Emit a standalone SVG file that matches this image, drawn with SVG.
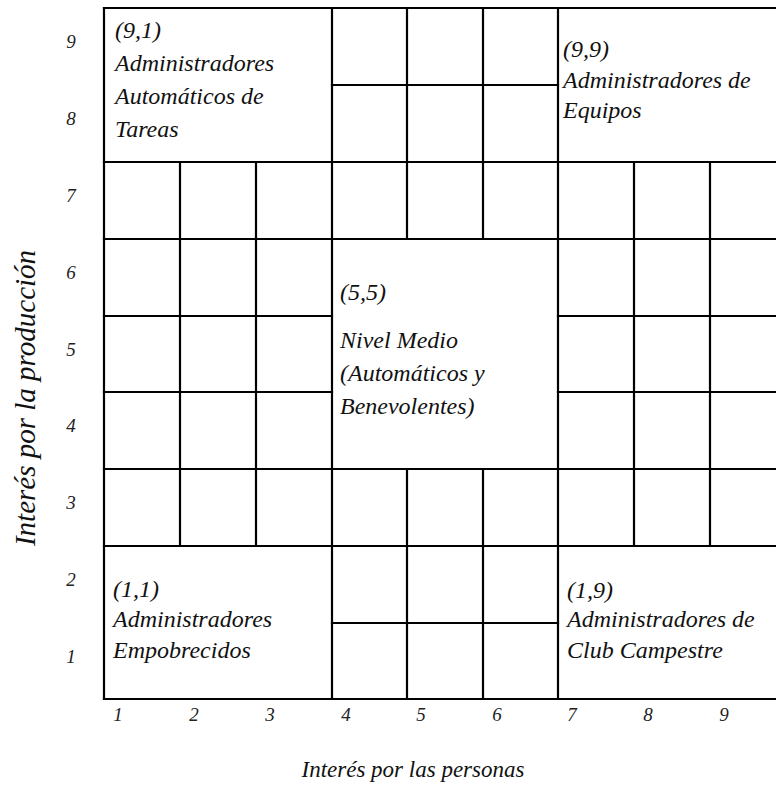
<svg xmlns="http://www.w3.org/2000/svg" width="776" height="787" viewBox="0 0 776 787">
<style>
  .ln { stroke: #000; stroke-width: 2.2; fill: none; stroke-linecap: square; }
  .t { font-family: 'Liberation Serif', 'DejaVu Serif', serif; font-style: italic; fill: #111; }
  .cell { font-size: 24px; }
  .tick { font-size: 19px; text-anchor: middle; fill: #222; }
  .axis { font-size: 23px; text-anchor: middle; }
  .yaxis { font-size: 29px; text-anchor: middle; }
</style>
<rect x="0" y="0" width="776" height="787" fill="#fff"/>
<g id="connectors">
  <path class="ln" d="M104 8H776 M332 85H558 M104 162H776 M104 239H776 M104 316H332 M558 316H776 M104 392H332 M558 392H776 M104 469H776 M104 546H776 M332 623H558 M104 699H776"/>
  <path class="ln" d="M104 8V699 M180 162V546 M256 162V546 M332 8V699 M407 8V239 M407 469V699 M483 8V239 M483 469V699 M558 8V699 M634 162V546 M710 162V546"/>
</g>
<g id="node-9-1" class="t cell">
  <text x="115" y="38">(9,1)</text>
  <text x="115" y="71">Administradores</text>
  <text x="115" y="104">Automáticos de</text>
  <text x="115" y="137">Tareas</text>
</g>
<g id="node-9-9" class="t cell">
  <text x="563" y="57">(9,9)</text>
  <text x="563" y="88">Administradores de</text>
  <text x="563" y="118">Equipos</text>
</g>
<g id="node-5-5" class="t cell">
  <text x="340" y="300">(5,5)</text>
  <text x="340" y="348">Nivel Medio</text>
  <text x="340" y="381">(Automáticos y</text>
  <text x="340" y="414">Benevolentes)</text>
</g>
<g id="node-1-1" class="t cell">
  <text x="113" y="597">(1,1)</text>
  <text x="113" y="627">Administradores</text>
  <text x="113" y="658">Empobrecidos</text>
</g>
<g id="node-1-9" class="t cell">
  <text x="567" y="598">(1,9)</text>
  <text x="567" y="627">Administradores de</text>
  <text x="567" y="658">Club Campestre</text>
</g>
<g id="y-ticks" class="t tick">
  <text x="71" y="48">9</text>
  <text x="71" y="125">8</text>
  <text x="71" y="202">7</text>
  <text x="71" y="279">6</text>
  <text x="71" y="356">5</text>
  <text x="71" y="432">4</text>
  <text x="71" y="509">3</text>
  <text x="71" y="586">2</text>
  <text x="71" y="663">1</text>
</g>
<g id="x-ticks" class="t tick">
  <text x="118" y="721">1</text>
  <text x="194" y="721">2</text>
  <text x="270" y="721">3</text>
  <text x="346" y="721">4</text>
  <text x="421" y="721">5</text>
  <text x="497" y="721">6</text>
  <text x="572" y="721">7</text>
  <text x="648" y="721">8</text>
  <text x="724" y="721">9</text>
</g>
<g id="axis-labels" class="t">
  <text class="axis" x="413" y="777">Interés por las personas</text>
  <text class="yaxis" transform="translate(35 398) rotate(-90)">Interés por la producción</text>
</g>
</svg>
